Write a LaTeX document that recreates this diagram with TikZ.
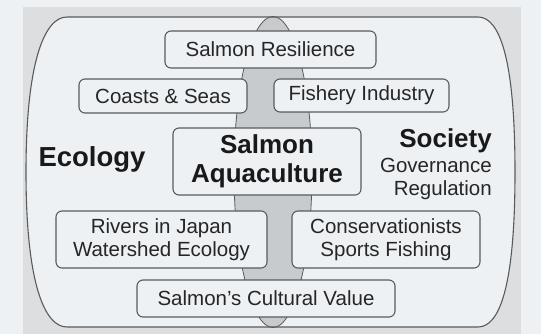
\documentclass[tikz,border=0pt]{standalone}
\usepackage{fontspec}
\setmainfont{Liberation Sans}
\definecolor{pagebg}{HTML}{EEF1F3}
\definecolor{panelbg}{HTML}{DCDEE0}
\definecolor{innerbg}{HTML}{EEF1F4}
\definecolor{lensgray}{HTML}{C8CBCD}
\definecolor{edgegray}{HTML}{5A5A5A}
\definecolor{txtgray}{HTML}{262626}
\tikzset{
  topicbox/.style={draw=edgegray,line width=1.1pt,fill=innerbg,rounded corners=6pt,
    align=center,inner sep=0pt,text=txtgray,font=\fontsize{20.5}{22.5}\selectfont},
  headlabel/.style={inner sep=0pt,text=black!90,font=\fontsize{26}{29}\selectfont\bfseries},
  sublabel/.style={inner sep=0pt,text=txtgray,font=\fontsize{20.5}{23}\selectfont}
}
\begin{document}
\begin{tikzpicture}[x=1pt,y=-1pt]
    \useasboundingbox (0,0) rectangle (541,334);
    \fill[pagebg] (0,0) rectangle (541,334);
    \fill[panelbg] (23,7) rectangle (521,334);

    % ecology / society field
    \fill[innerbg] (67,17) -- (478,17)
        .. controls (500,17) and (515,60) .. (515,172)
        .. controls (515,285) and (500,327) .. (478,327)
        -- (67,327)
        .. controls (45,327) and (26,285) .. (26,172)
        .. controls (26,60) and (45,17) .. (67,17) -- cycle;
    \draw[edgegray,line width=0.8pt,fill=lensgray] (273,172) ellipse [x radius=39,y radius=155.5];
    \draw[edgegray,line width=1.1pt] (67,17) -- (478,17)
        .. controls (500,17) and (515,60) .. (515,172)
        .. controls (515,285) and (500,327) .. (478,327)
        -- (67,327)
        .. controls (45,327) and (26,285) .. (26,172)
        .. controls (26,60) and (45,17) .. (67,17) -- cycle;

    \foreach \nm/\cx/\cy/\w/\h/\txt in {
        resil/270.5/49.5/211/37/{Salmon Resilience},
        coast/163/96/168/34/{Coasts \& Seas},
        fish/361.5/95.5/175/33/{Fishery Industry},
        river/161.5/239.5/211/57/{Rivers in Japan\\Watershed Ecology},
        conserv/386/239.5/188/57/{Conservationists\\Sports Fishing},
        culture/266/298.5/258/37/{Salmon's Cultural Value}}{
        \node[topicbox,minimum width=\w,minimum height=\h] (\nm) at (\cx,\cy) {\txt};
    }

    \node[topicbox,minimum width=188,minimum height=67,text=black!90,
        font=\fontsize{26}{29}\selectfont\bfseries] (aqua) at (267,161.5)
        {Salmon\\Aquaculture};

    \node[headlabel,anchor=base,font=\fontsize{27.5}{30}\selectfont\bfseries] (ecol) at (92,167) {Ecology};
    \node[headlabel,anchor=base east] (soc) at (492,148) {Society};
    \node[sublabel,anchor=base east] (gov) at (492,172) {Governance};
    \node[sublabel,anchor=base east] (reg) at (492,195) {Regulation};
\end{tikzpicture}
\end{document}
